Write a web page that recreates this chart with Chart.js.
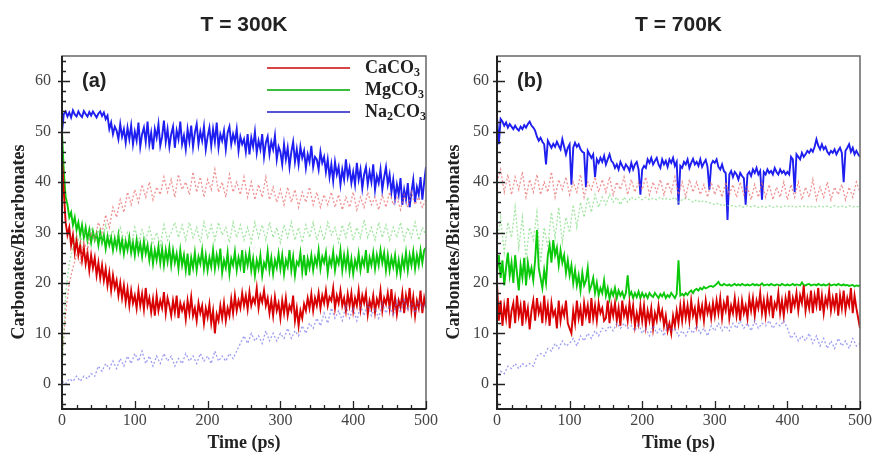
<!doctype html>
<html lang="en">
  <head>
    <meta charset="utf-8">
    <title>Carbonates/Bicarbonates at 300K and 700K</title>
    <style>
      * {
        margin: 0;
        padding: 0;
      }
      body {
        width: 874px;
        height: 452px;
        background: #fff;
        position: relative;
        overflow: hidden;
      }
      .panel {
        position: absolute;
        top: 0;
        height: 452px;
      }
      #panelA { left: 0; width: 440px; }
      #panelB { left: 440px; width: 434px; }
    </style>
  </head>
  <body>
    <div class="panel" id="panelA"><canvas id="chart300" width="440" height="452"></canvas></div>
    <div class="panel" id="panelB"><canvas id="chart700" width="434" height="452"></canvas></div>

    <script src="https://cdn.jsdelivr.net/npm/chart.js"></script>
    <script>
    // every series spans 0..500 ps at an even step (2.5 ps for the counts, 5 ps for the dotted ones)
    const tMax = 500;

    const xTicks = [0, 100, 200, 300, 400, 500];
    const yTicks = [0, 10, 20, 30, 40, 50, 60];
    const seriesNames = ['CaCO_3', 'MgCO_3', 'Na_2CO_3'];

    // ---- T = 300K ----
    const caRed300 = [
      45, 38, 32, 29.5, 31, 27.5, 29.5, 26, 28.5, 25.5, 27.5, 24.5, 27, 23.8, 26, 22.5, 25.5, 23, 25, 21.5,
      24, 21, 23.5, 20.5, 22.8, 19.5, 22, 18.5, 21.5, 19, 20.5, 17.5, 20, 17, 19.5, 16.2, 18.8, 15.5, 18.5, 16,
      17.5, 15, 18.5, 15.5, 17.8, 14.8, 19, 15.5, 17, 14.2, 16.8, 13.5, 17.5, 14.5, 16.5, 15, 18.2, 14, 17, 15.5,
      13.5, 16.5, 14.2, 17.5, 13, 16, 14.5, 15.8, 12.8, 16.5, 14, 17.2, 13.5, 15, 12.5, 16, 14, 15.5, 12, 15,
      13.2, 15.8, 12, 14.5, 10, 13.8, 12.5, 15.5, 13, 16, 12.5, 15, 13.5, 16.8, 14, 17.5, 14.5, 16.5, 15, 18,
      15.5, 17.5, 14.8, 18.2, 15.5, 17, 16, 19, 15, 17.5, 16.2, 18.5, 15.5, 17, 14, 16.5, 13.5, 17.2, 14.5, 16,
      13, 16.5, 14, 17, 13.5, 15.5, 14.5, 17.5, 12.5, 15, 11.5, 14.5, 13, 15.8, 14.5, 17, 15, 17.8, 14.5, 17,
      15.5, 18, 15, 17.5, 16, 18.5, 15.5, 17.2, 16.5, 19, 15, 17.5, 16, 18.5, 15.5, 17, 14.5, 17.8, 15.5, 18,
      14.5, 17, 15.5, 18.5, 14.8, 17.5, 16, 18, 13.8, 16.5, 15, 17.5, 14.2, 16.8, 15.5, 18.5, 14.5, 17, 15.8, 18,
      15, 18.8, 14.5, 17, 13.8, 16.5, 15.2, 18, 14, 17.5, 15.5, 19, 14.5, 17.2, 13.5, 16.5, 15, 18.5, 14, 17,
      15
    ];
    const mgGreen300 = [
      50, 42, 37, 35.5, 33, 34, 31.5, 33, 30.5, 32, 29.5, 31.5, 29, 31, 28.5, 30.5, 28, 30.2, 28.5, 29.8,
      27.5, 30, 28, 29.5, 26.8, 29.2, 27.5, 29, 26.5, 28.8, 27, 29.5, 26.5, 28.5, 25.8, 28.2, 26.5, 29, 26, 28,
      25.5, 28.5, 26, 27.8, 25.2, 28.2, 25.8, 27.5, 24.5, 27, 23.8, 26.5, 24.5, 27.2, 24, 26.8, 23.5, 26.5, 24.2, 27,
      23.5, 26.5, 24, 25.8, 22.8, 26.5, 23.5, 25.5, 22.5, 25.8, 21.5, 25, 23, 26, 22.5, 25.2, 23.8, 26.5, 22.8, 25.5,
      22.5, 25, 23.2, 26.5, 22.8, 25.5, 23.5, 26.8, 22, 24.5, 23, 26, 21.8, 24.8, 23.5, 26.2, 22.5, 25, 23.2, 26.5,
      22, 25.5, 23.5, 26, 22.5, 24.8, 21.5, 24.5, 22.8, 25.5, 21.5, 24, 23, 26.2, 22.5, 25, 21.8, 24.5, 23, 25.8,
      22.8, 25.5, 21.8, 24.5, 23.2, 26.5, 22.5, 25.2, 21.5, 24.2, 23.5, 26, 22.2, 25.5, 21.5, 24.8, 23, 25.5, 22.5, 25,
      23.5, 26.5, 22.8, 25.2, 24, 26, 22, 24.8, 23.5, 26.2, 22.5, 25, 23.8, 26.5, 22.5, 25.5, 23, 25.8, 22.2, 24.8,
      21.8, 24.5, 23, 25.8, 22.5, 24.8, 23.5, 26.5, 22, 25, 23.5, 26, 22.8, 25.5, 23.5, 26.5, 24, 26, 22.5, 25.5,
      22.5, 25, 23.2, 25.5, 22, 24.5, 21.8, 25, 23, 26, 22.5, 25.5, 23.5, 26.2, 22.8, 25.5, 23.5, 26.5, 24, 26.5,
      27
    ];
    const naBlue300 = [
      50, 53.5, 54, 53, 53.8, 52.8, 54.2, 53.4, 53, 54, 53.3, 52.9, 54.1, 53.5, 53, 53.9, 53.2, 54, 53.4, 52.8,
      53.6, 54, 53.1, 53.8, 52.5, 53.2, 50.5, 51.8, 49.5, 51, 50.2, 48.5, 51.5, 49, 50.5, 47.8, 50.8, 48.5, 51.2, 47.5,
      50, 48.2, 51.8, 47, 49.5, 50.8, 48, 52, 47.5, 49.8, 46.5, 50.5, 48.8, 51.5, 47.2, 49, 52.2, 48, 50.5, 47,
      49.5, 51, 46.8, 50.2, 48.5, 52, 47.5, 49.2, 46.5, 50.5, 48, 51.2, 47, 49.8, 51.5, 47.5, 50, 48.2, 51, 46.5,
      49, 50.8, 47.2, 50.5, 48, 51.8, 46.8, 49.5, 48.2, 50.2, 46.5, 49.8, 51, 47.5, 49.5, 48, 50.5, 46.2, 49, 47.5,
      48.5, 46, 49.5, 45.5, 48.8, 47, 50, 45.8, 48.2, 46.5, 49.5, 45, 47.8, 49, 45.5, 48, 46.5, 49.2, 44.5, 47,
      46, 43.5, 47.5, 44.5, 46.8, 43, 46, 48, 44, 46.5, 43.5, 47, 44.8, 46.2, 42.8, 45.5, 44, 47.2, 43, 45,
      44.5, 42.5, 46, 43.8, 45, 42, 44.5, 41, 43.5, 40.2, 44, 41.5, 43, 39.5, 42.5, 40.5, 44.5, 41, 42.8, 39.8,
      42, 39.5, 43.8, 40.5, 42.5, 38.8, 41.5, 43, 39.5, 42, 40, 43.5, 38.5, 41.2, 39.8, 42.5, 38.5, 41, 43, 39.5,
      41.5, 38, 40.5, 36.8, 39.5, 37.5, 40.8, 35.5, 38.5, 36.5, 39.8, 35, 38, 40.5, 36, 39, 37.5, 41, 36.5, 40,
      43
    ];
    // bicarbonate counts (dotted)
    const caPale300 = [
      5, 14, 20, 23, 25.5, 24, 28, 26.5, 30, 28.5,
      32, 30, 33.5, 31, 35, 33, 36.5, 34, 38, 35.5,
      38.5, 36, 39.5, 37, 40, 36.5, 39, 37.5, 41, 38,
      40.5, 37, 41.5, 38.5, 40, 37.5, 42, 38, 41, 37,
      40.5, 38.5, 42.5, 38, 40, 37, 41.5, 38, 40, 37.5,
      41, 37, 40, 36.5, 39.5, 37, 41, 36.5, 39, 36,
      38.5, 35.5, 39, 36, 38.5, 35, 38, 36, 39, 35.5,
      38, 35, 37.5, 35.5, 38, 35, 37.5, 34.5, 37, 35,
      38, 34.5, 37, 35, 38, 35.5, 37, 34.5, 37.5, 35,
      38, 35.5, 37, 34.5, 37.5, 35, 38, 35.5, 37, 35,
      36.5
    ];
    const mgPale300 = [
      2, 18, 24, 27, 29.5, 27.5, 30.5, 28, 31, 28.5,
      30.5, 28, 31.5, 29, 30.5, 28, 31, 28.5, 30, 27.5,
      31, 28, 30.5, 28.5, 31, 28, 30, 27.5, 31.5, 28.5,
      30, 32, 29, 31.5, 28.5, 32, 29, 31, 28, 32,
      29, 31.5, 28.5, 32, 29.5, 31, 28, 32, 29, 31.5,
      28.5, 31, 28, 32, 29, 31.5, 28.5, 32, 29, 31,
      28, 31.5, 29, 32, 28.5, 31, 28, 31.5, 29, 32,
      28.5, 31, 28.5, 32, 29.5, 31, 28, 31.5, 29, 32,
      28.5, 31, 29, 32.5, 29, 31, 28.5, 32, 29, 31.5,
      28.5, 31, 29, 32, 28.5, 31, 29, 32, 28.5, 31,
      29.5
    ];
    const naPale300 = [
      0.5, 0, 1, 0.5, 1.5, 0.5, 1.5, 1, 2, 1.5,
      3.5, 2.5, 4, 3, 4.5, 3, 5, 3.5, 5.5, 4,
      6, 4.5, 6.5, 4, 5.5, 3.5, 5.5, 4, 6, 4.5,
      5.5, 3.5, 5, 4, 6, 4.5, 5.5, 4, 6, 4.5,
      5.5, 4, 6.5, 4.5, 5.5, 4.5, 6, 5, 6.5, 8,
      9.5, 8, 10, 8.5, 9.5, 8, 10.5, 8.5, 10, 8.5,
      10, 9, 11, 9, 10.5, 9.5, 11.5, 10, 12, 11,
      13, 11.5, 14, 12, 15, 13, 14.5, 12.5, 15.5, 13,
      15, 12.5, 15.5, 13.5, 16, 13.5, 15, 13, 16, 14,
      15.5, 13.5, 16.5, 14, 17, 14.5, 16, 14, 16.5, 15,
      16
    ];

    // ---- T = 700K ----
    const caRed700 = [
      20, 12.5, 16.5, 11.5, 15.5, 13, 17, 11, 14.5, 16, 12, 17.5, 13.5, 15.5, 11.5, 16.5, 13, 15, 10.8, 14.5,
      16.5, 12.5, 17, 14, 15.5, 12, 17.5, 13, 15.5, 11.5, 16, 13.5, 14.5, 11, 16.5, 12.5, 15, 13.5, 16.5, 12,
      11, 10, 14.5, 12, 16.5, 13, 15, 11.5, 16, 13.5, 15.5, 12, 17, 13, 15.5, 12.5, 16, 14, 15, 12.5,
      13, 16.5, 12, 15.5, 13.5, 16, 12.5, 15, 11.5, 16.5, 13.5, 15, 12.5, 16, 13, 15.5, 11.5, 14, 12, 15.5,
      12.5, 15.5, 11.5, 14.5, 12.5, 15, 11, 14, 12.5, 15.5, 13, 14.5, 11.5, 13.5, 10.5, 12, 10, 13.5, 11.5, 14.5,
      12, 15.5, 12.5, 16, 13, 15.5, 12.5, 16.5, 13.5, 15, 12, 16, 13.5, 15.5, 12.5, 16.5, 14, 15.5, 13, 16,
      13.5, 16.5, 14, 17, 13, 16, 14.5, 17.5, 13, 15.5, 14, 17, 13.5, 16, 12.5, 16.5, 14, 15.5, 13, 17,
      14.5, 17, 13.5, 16.5, 15, 18, 14, 16.5, 13.5, 17, 14.5, 17.5, 13, 16, 15, 18, 14, 16.5, 13.5, 17,
      15, 18.5, 14, 17, 15.5, 18, 14.5, 17.5, 16, 19.5, 14.5, 17, 15, 18.5, 14, 17.5, 15.5, 19, 14.5, 17.5,
      14, 17, 15.5, 18.5, 14.5, 17, 15, 18, 13.5, 17.5, 15, 18.5, 14.5, 17, 15.5, 19, 14, 17.5, 15, 13,
      11
    ];
    const mgGreen700 = [
      22, 25.5, 21, 24.5, 19.5, 23, 26, 21.5, 24, 20, 25.5, 22, 18.5, 23.5, 21, 25, 19.5, 24, 21.5, 23,
      20.5, 24.5, 30.5, 23, 21, 19, 22.5, 20, 25.5, 27.5, 24, 28.5, 25.5, 27, 23.5, 26.5, 24, 25.5, 22, 24.5,
      21.5, 23.5, 20, 22.5, 19.5, 21.5, 18.5, 22, 19.5, 20.5, 23, 18.5, 19.5, 21, 18, 20, 17.5, 19, 18, 20.5,
      17.5, 19, 16.8, 18.5, 17.5, 19, 17, 18.5, 17.5, 18.2, 17, 18, 21.5, 17.5, 18.2, 17, 18, 17.2, 18.3, 17,
      18, 17.2, 17.8, 17, 18, 17.5, 17.2, 18, 17.5, 17, 17.8, 17.3, 18, 17, 17.6, 17.2, 18, 17.5, 17, 17.8,
      24.5, 17.5, 17.8, 17.5, 18, 17.6, 18.2, 18.5, 18, 18.6, 18.8, 18.5, 19, 18.7, 19.2, 18.9, 19.1, 19.3, 19.4, 19.2,
      19.5, 19.8, 20.2, 19.6, 19.5, 19.8, 19.6, 19.5, 19.7, 19.4, 19.6, 19.8, 19.5, 19.7, 19.5, 19.8, 19.6, 19.5, 19.7, 19.5,
      19.6, 19.8, 19.5, 19.7, 19.5, 19.6, 19.9, 19.5, 19.6, 19.7, 19.5, 19.8, 19.6, 19.5, 19.7, 19.6, 19.5, 19.8, 19.6, 19.5,
      19.7, 19.5, 19.6, 19.8, 19.5, 19.7, 19.6, 19.5, 20.1, 19.6, 19.5, 19.7, 19.8, 19.5, 19.6, 19.7, 19.5, 19.8, 19.6, 19.5,
      19.7, 19.5, 19.6, 19.8, 19.5, 19.6, 19.7, 19.5, 19.8, 19.6, 19.5, 19.7, 19.5, 19.6, 19.4, 19.5, 19.6, 19.3, 19.5, 19.4,
      19.5
    ];
    const naBlue700 = [
      53, 47.5, 52.5, 52, 51.2, 51.8, 50.8, 51.5, 51, 50.5, 51.2, 50.6, 50.2, 51, 50.5, 51.3, 50.8, 51.5, 52, 51.2,
      50.8, 50.2, 49, 48.2, 48.8, 48, 47.5, 43.5, 48.2, 47.5, 46.8, 47.6, 47, 48, 47.2, 46.5, 48.5, 47, 45.5, 46.8,
      47.5, 39.5, 46.8, 47.8, 47, 47.5, 46.5, 46, 45.8, 39, 46.2, 45.5, 44.8, 45.5, 41, 44.5, 43.8, 44.8, 44, 45.2,
      43.5, 44.5, 45.5, 44.2, 43.8, 42.8, 43.5, 42.5, 44, 43.2, 42.5, 43.5, 43, 42.2, 43.8, 42.5, 43.5, 44, 42.5, 37.5,
      42.5, 43.2, 42.8, 44.5, 43.8, 44.8, 43.5, 44.2, 44.8, 43.5, 42.8, 44.5, 43.5, 44.2, 43, 44.5, 43.8, 44.8, 43.2, 44,
      35.5, 43.2, 42.8, 44, 43.5, 44.5, 42.8, 43.8, 44.6, 43.5, 44, 43.2, 44.5, 43, 43.8, 44.4, 43, 38.5, 43.5, 44.2,
      43.8, 44.5, 43, 42.5, 43.5, 42.2, 41.8, 32.5, 41.5, 42.2, 41, 42, 41.5, 40.5, 41.8, 41.2, 40.8, 35.5, 41.5, 42,
      41.2, 42.5, 41.8, 42.8, 41.5, 42.2, 36.5, 42, 41.5, 42.5, 41.8, 42.2, 41.5, 42.8, 42, 41.5, 42.5, 41.8, 42.2, 41.5,
      42, 41.5, 45, 44.5, 38, 45.5, 45, 44.5, 45.8, 45, 45.5, 46.2, 45.8, 46.5, 46, 47, 48.5, 47.2, 46.5, 47.5,
      46.5, 47, 46, 45.5, 46.2, 45.8, 46.5, 45.5, 46.2, 46.8, 45.8, 40, 46.2, 46.8, 47.5, 46, 46.8, 45.5, 46.2, 45.5,
      45
    ];
    const caPale700 = [
      40, 42.5, 38, 41.5, 37.5, 41, 38.5, 42, 37, 40.5,
      38, 41.5, 37.5, 40, 38, 42, 37, 40.5, 38.5, 41,
      37.5, 40, 38, 41.5, 37, 40, 38.5, 41, 38, 40.5,
      38, 41, 37.5, 40, 38.5, 41, 37.5, 40.5, 38, 40,
      38.5, 41, 37.5, 40, 38, 40.5, 37.5, 40, 38, 41,
      37.5, 40, 37, 40.5, 38, 40, 37.5, 39.5, 37, 40,
      37.5, 39.5, 37, 40, 37.5, 39.5, 37, 40, 37.5, 39,
      36.5, 39.5, 37, 40, 37, 39.5, 36.5, 39, 37, 40,
      36.5, 39.5, 37, 40, 36.5, 39, 37, 40.5, 36.5, 39,
      37, 40, 36.5, 39, 37.5, 39.5, 36.5, 39, 37, 40,
      38
    ];
    const mgPale700 = [
      28, 33, 26, 32, 29, 35, 27, 33, 25, 31,
      28.5, 34, 24, 31, 27, 34, 29, 35, 28, 33,
      30, 35.5, 31, 36, 33, 37, 34, 37.5, 35, 37,
      35.5, 37.5, 36, 37, 35.5, 37, 36, 37, 36.5, 37,
      36.5, 37, 36.5, 36.8, 36.5, 37, 36.5, 36.8, 36.5, 37,
      36, 36.5, 36.8, 36.5, 36, 36.5, 36, 36.3, 36, 35.8,
      35.5, 35.8, 35.3, 35.5, 35.2, 35.4, 35.1, 35.3, 35, 35.3,
      35.1, 35.3, 35, 35.2, 35, 35.3, 35, 35.2, 35, 35.3,
      35.1, 35.3, 35, 35.2, 35.1, 35.3, 35, 35.2, 35, 35.3,
      35.1, 35.2, 35, 35.3, 35.1, 35.2, 35, 35.3, 35.1, 35.2,
      35
    ];
    const naPale700 = [
      1, 2.5, 2, 3.5, 3, 4, 3, 4, 3.5, 4,
      3.5, 5.5, 6, 5.5, 7, 6.5, 8, 7, 8.5, 7.5,
      8, 9, 7.5, 9.5, 8.5, 10, 9, 10.5, 9.5, 11,
      10.5, 11.5, 10.5, 12, 11, 12, 11, 11.5, 10.5, 12,
      10, 11, 9.5, 11.5, 10, 11, 9.5, 11.5, 10.5, 11,
      9.5, 10.5, 9.5, 11, 10, 11.5, 10, 11, 9.5, 11.5,
      10.5, 12, 10.5, 11.5, 10.5, 12, 11, 12.5, 11, 12,
      10.5, 12.5, 11, 12, 11.5, 12.5, 11, 12, 11.5, 12.5,
      11, 9, 10, 8.5, 9.5, 8.5, 10, 8, 9.5, 7.5,
      9, 7, 8.5, 7, 9, 7.5, 8.5, 7, 9, 7.5,
      8
    ];

    const solidColors = ['#d80000', '#0ac80a', '#1e1ef0'];
    const paleColors = ['rgba(232,110,110,0.75)', 'rgba(110,215,110,0.65)', 'rgba(105,105,235,0.65)'];
    const legendColors = ['rgb(215,70,70)', 'rgb(60,190,60)', 'rgb(85,85,210)'];

    const serif = '"Liberation Serif", "Times New Roman", serif';
    const sans = '"Liberation Sans", Arial, sans-serif';

    function toPoints(values) {
      const step = tMax / (values.length - 1);
      return values.map((y, i) => ({ x: i * step, y }));
    }

    function solid(values, color) {
      return { data: toPoints(values), borderColor: color, borderWidth: 1.9, pointRadius: 0, tension: 0 };
    }
    function dotted(values, color) {
      return { data: toPoints(values), borderColor: color, borderWidth: 1.3, borderDash: [2, 2], pointRadius: 0, tension: 0 };
    }

    // draws "CaCO_3" style labels with subscripts
    function drawFormula(ctx, text, x, y) {
      let cx = x;
      const parts = text.split('_');
      parts.forEach((part, i) => {
        let body = part;
        if (i > 0) {
          const sub = part[0];
          body = part.slice(1);
          ctx.font = 'bold 12px ' + serif;
          ctx.fillText(sub, cx, y + 5);
          cx += ctx.measureText(sub).width;
        }
        ctx.font = 'bold 18px ' + serif;
        ctx.fillText(body, cx, y);
        cx += ctx.measureText(body).width;
      });
    }

    // frame, inward ticks, titles, panel tag and legend
    const panelDecor = {
      id: 'panelDecor',
      afterDraw(chart, args, opts) {
        const ctx = chart.ctx;
        const { left, right, top, bottom } = chart.chartArea;
        const xs = chart.scales.x;
        const ys = chart.scales.y;
        ctx.save();

        ctx.strokeStyle = '#666';
        ctx.lineWidth = 1.5;
        ctx.strokeRect(left, top, right - left, bottom - top);

        ctx.strokeStyle = '#222';
        ctx.lineWidth = 2;
        ctx.beginPath();
        ctx.moveTo(left, top);
        ctx.lineTo(left, bottom);
        ctx.lineTo(right, bottom);
        ctx.stroke();

        ctx.lineWidth = 1.3;
        ctx.beginPath();
        for (let v = 0; v <= 500; v += 20) {
          const px = Math.round(xs.getPixelForValue(v)) + 0.5;
          const len = v % 100 === 0 ? 8 : 4;
          ctx.moveTo(px, bottom);
          ctx.lineTo(px, bottom - len);
        }
        for (let v = -4; v <= 64; v += 2) {
          const py = Math.round(ys.getPixelForValue(v)) + 0.5;
          if (v % 10 === 0) {
            ctx.moveTo(left - 4, py);
            ctx.lineTo(left + 8, py);
          } else {
            ctx.moveTo(left, py);
            ctx.lineTo(left + 4, py);
          }
        }
        ctx.stroke();

        ctx.fillStyle = '#222';
        ctx.textAlign = 'center';
        ctx.textBaseline = 'middle';
        ctx.font = 'bold 21px ' + sans;
        ctx.fillText(opts.title, (left + right) / 2, 25);

        ctx.font = 'bold 18px ' + serif;
        ctx.fillText('Time (ps)', (left + right) / 2, 443);

        ctx.save();
        ctx.translate(left - 43, 242);
        ctx.rotate(-Math.PI / 2);
        ctx.fillText('Carbonates/Bicarbonates', 0, 0);
        ctx.restore();

        ctx.textAlign = 'left';
        ctx.font = 'bold 20px ' + sans;
        ctx.fillText(opts.tag, left + 20, ys.getPixelForValue(60));

        if (opts.legend) {
          seriesNames.forEach((name, i) => {
            const ly = top + 12 + i * 22;
            ctx.strokeStyle = legendColors[i];
            ctx.lineWidth = 2;
            ctx.beginPath();
            ctx.moveTo(left + 205, ly);
            ctx.lineTo(left + 288, ly);
            ctx.stroke();
            ctx.fillStyle = '#222';
            drawFormula(ctx, name, left + 303, ly);
          });
        }
        ctx.restore();
      }
    };

    function makeChart(canvasId, series, yWidth, yPad, decor) {
      const [caRed, mgGreen, naBlue, caPale, mgPale, naPale] = series;
      const config = {
        type: 'line',
        data: {
          datasets: [
            dotted(naPale, paleColors[2]),
            dotted(mgPale, paleColors[1]),
            dotted(caPale, paleColors[0]),
            solid(caRed, solidColors[0]),
            solid(mgGreen, solidColors[1]),
            solid(naBlue, solidColors[2])
          ]
        },
        options: {
          responsive: false,
          animation: false,
          layout: { padding: { left: 0, right: 10, top: 56, bottom: 0 } },
          plugins: {
            legend: { display: false },
            tooltip: { enabled: false },
            panelDecor: decor
          },
          scales: {
            x: {
              type: 'linear',
              min: 0,
              max: tMax,
              afterBuildTicks: s => { s.ticks = xTicks.map(v => ({ value: v })); },
              afterFit: s => { s.height = 43; },
              grid: { display: false, drawTicks: false },
              border: { display: false },
              ticks: { padding: 2, color: '#444', font: { family: serif, size: 16 } }
            },
            y: {
              min: -5,
              max: 65,
              afterBuildTicks: s => { s.ticks = yTicks.map(v => ({ value: v })); },
              afterFit: s => { s.width = yWidth; },
              grid: { display: false, drawTicks: false },
              border: { display: false },
              ticks: { padding: yPad, color: '#444', font: { family: serif, size: 16 } }
            }
          }
        },
        plugins: [panelDecor]
      };
      return new Chart(document.getElementById(canvasId), config);
    }

    makeChart('chart300',
      [caRed300, mgGreen300, naBlue300, caPale300, mgPale300, naPale300],
      62, 11, { title: 'T = 300K', tag: '(a)', legend: true });

    makeChart('chart700',
      [caRed700, mgGreen700, naBlue700, caPale700, mgPale700, naPale700],
      57, 8, { title: 'T = 700K', tag: '(b)', legend: false });
    </script>
  </body>
</html>
